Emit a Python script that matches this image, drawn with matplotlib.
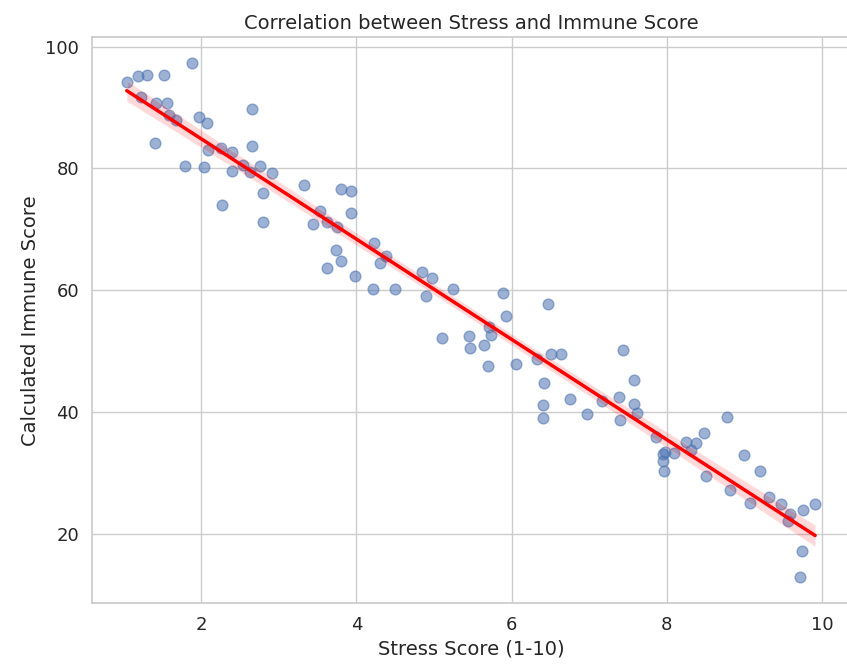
import numpy as np
import matplotlib
matplotlib.use("Agg")
import matplotlib.pyplot as plt
import seaborn as sns

# stress score (x) and calculated immune score (y)
stress = [1.04, 1.18, 1.30, 1.52, 1.88, 1.22, 1.42, 1.56, 1.59, 1.68,
          1.40, 1.97, 2.07, 2.66, 1.79, 2.03, 2.09, 2.26, 2.40, 2.40,
          2.54, 2.63, 2.65, 2.76, 2.91, 2.79, 2.27, 2.79, 3.33,
          3.80, 3.93, 3.53, 3.44, 3.62, 3.75, 3.93, 3.74, 3.80, 3.62,
          3.98, 4.23, 4.38, 4.30, 4.21, 4.50, 4.85, 4.97, 4.89, 5.25,
          5.89, 5.93, 5.71, 5.10, 5.45, 5.73,
          6.47, 5.46, 5.64, 5.69, 6.06, 6.33, 6.51, 6.63, 6.42, 6.40,
          6.40, 6.75, 6.97, 7.16, 7.38, 7.43, 7.58, 7.58, 7.61, 7.39, 7.86,
          8.78, 7.98, 7.95, 7.95, 7.96, 8.09, 8.24, 8.37, 8.48, 8.31,
          8.51, 9.00, 9.20, 8.81, 9.32, 9.07, 9.47, 9.58, 9.56, 9.75,
          9.91, 9.74, 9.71]
immune = [94.2, 95.2, 95.3, 95.3, 97.3, 91.7, 90.8, 90.8, 88.8, 88.0,
          84.1, 88.4, 87.5, 89.7, 80.4, 80.2, 83.0, 83.4, 82.6, 79.6,
          80.6, 79.4, 83.7, 80.4, 79.3, 75.9, 73.9, 71.1, 77.3,
          76.6, 76.3, 73.0, 70.9, 71.1, 70.4, 72.6, 66.6, 64.8, 63.7,
          62.3, 67.7, 65.6, 64.4, 60.2, 60.1, 63.0, 61.9, 59.0, 60.1,
          59.5, 55.7, 54.0, 52.2, 52.5, 52.6,
          57.7, 50.5, 51.0, 47.5, 47.8, 48.6, 49.5, 49.5, 44.7, 41.2,
          39.0, 42.1, 39.7, 41.7, 42.4, 50.1, 45.3, 41.3, 39.8, 38.6, 35.9,
          39.1, 33.4, 33.0, 32.0, 30.3, 33.3, 35.1, 34.8, 36.5, 33.8,
          29.4, 32.9, 30.3, 27.1, 26.0, 25.0, 24.8, 23.3, 22.0, 23.8,
          24.9, 17.2, 12.8]

sns.set_theme(style="whitegrid")

fig, ax = plt.subplots(figsize=(8.47, 6.65), dpi=100)
sns.regplot(x=np.array(stress), y=np.array(immune), ax=ax,
            scatter_kws={"alpha": 0.55, "s": 60},
            line_kws={"color": "red", "lw": 2.5})
ax.set_title("Correlation between Stress and Immune Score", fontsize=14)
ax.set_xlabel("Stress Score (1-10)", fontsize=14)
ax.set_ylabel("Calculated Immune Score", fontsize=14)
ax.tick_params(labelsize=13)
ax.set_xticks([2, 4, 6, 8, 10])
ax.set_yticks([20, 40, 60, 80, 100])

fig.subplots_adjust(left=0.109, right=1.003, top=0.944, bottom=0.093)
plt.savefig("out.png")
